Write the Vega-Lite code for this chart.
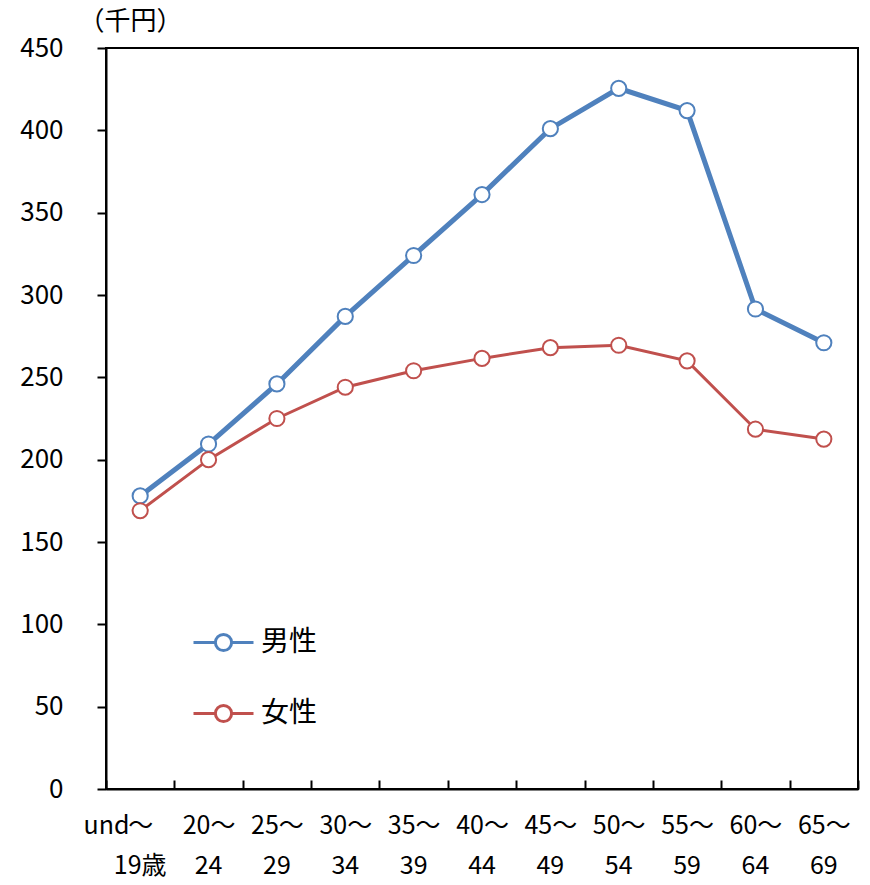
{
  "$schema": "https://vega.github.io/schema/vega-lite/v6.json",
  "width": 752,
  "height": 741,
  "autosize": {"type": "none"},
  "padding": {"left": 106, "top": 48, "right": 12, "bottom": 96},
  "background": "white",
  "config": {
    "view": {"stroke": "black", "strokeWidth": 2},
    "axis": {"grid": false, "domainColor": "black", "domainWidth": 2, "tickColor": "black", "tickWidth": 2, "labelColor": "black", "labelFont": "Noto Sans CJK JP", "labelFontSize": 25}
  },
  "data": {
    "values": [
      {"age": "～19歳", "sex": "男性", "wage": 178},
      {"age": "20～24", "sex": "男性", "wage": 209.5},
      {"age": "25～29", "sex": "男性", "wage": 246},
      {"age": "30～34", "sex": "男性", "wage": 287},
      {"age": "35～39", "sex": "男性", "wage": 324},
      {"age": "40～44", "sex": "男性", "wage": 361},
      {"age": "45～49", "sex": "男性", "wage": 401},
      {"age": "50～54", "sex": "男性", "wage": 425.5},
      {"age": "55～59", "sex": "男性", "wage": 412},
      {"age": "60～64", "sex": "男性", "wage": 291.5},
      {"age": "65～69", "sex": "男性", "wage": 271},
      {"age": "～19歳", "sex": "女性", "wage": 169},
      {"age": "20～24", "sex": "女性", "wage": 200},
      {"age": "25～29", "sex": "女性", "wage": 225},
      {"age": "30～34", "sex": "女性", "wage": 244},
      {"age": "35～39", "sex": "女性", "wage": 254},
      {"age": "40～44", "sex": "女性", "wage": 261.5},
      {"age": "45～49", "sex": "女性", "wage": 268},
      {"age": "50～54", "sex": "女性", "wage": 269.5},
      {"age": "55～59", "sex": "女性", "wage": 260},
      {"age": "60～64", "sex": "女性", "wage": 218.5},
      {"age": "65～69", "sex": "女性", "wage": 212.5}
    ]
  },
  "resolve": {"axis": {"x": "independent"}},
  "encoding": {
    "y": {
      "field": "wage", "type": "quantitative",
      "scale": {"domain": [0, 450], "nice": false},
      "axis": {
        "values": [0, 50, 100, 150, 200, 250, 300, 350, 400, 450],
        "tickSize": 9, "labelPadding": 34, "labelFontSize": 26,
        "title": "（千円）", "titleAngle": 0, "titleAlign": "left", "titleBaseline": "middle",
        "titleX": -28, "titleY": -27, "titleFontSize": 26, "titleFontWeight": "normal",
        "titleFont": "Noto Sans CJK JP", "titleColor": "black"
      }
    },
    "color": {
      "field": "sex", "type": "nominal",
      "scale": {"domain": ["男性", "女性"], "range": ["#4F81BD", "#C0504D"]},
      "legend": {
        "title": null, "orient": "none", "legendX": 86, "legendY": 563,
        "symbolType": "M-1,0L-0.27,0M0.27,0L1,0M-0.27,0A0.27,0.27 0 1,1 0.27,0A0.27,0.27 0 1,1 -0.27,0Z",
        "symbolSize": 3600, "symbolFillColor": "white", "symbolStrokeWidth": 3,
        "labelFontSize": 28, "labelFont": "Noto Sans CJK JP", "labelColor": "black",
        "rowPadding": 25, "labelOffset": 6
      }
    }
  },
  "layer": [
    {
      "mark": {"type": "line"},
      "encoding": {
        "x": {
          "field": "age", "type": "ordinal", "sort": null,
          "scale": {"paddingInner": 0, "paddingOuter": 0},
          "axis": {
            "orient": "bottom",
            "title": null, "labelAngle": 0, "tickBand": "extent", "tickSize": -9,
            "labelPadding": 33,
            "labelExpr": "datum.value == '～19歳' ? substring(datum.value, 0, 1) : substring(datum.value, 0, 3)"
          }
        },
        "strokeWidth": {"condition": {"test": "datum.sex == '男性'", "value": 5}, "value": 3}
      }
    },
    {
      "mark": {"type": "point", "shape": "circle", "filled": false, "fill": "white", "opacity": 1, "size": 230, "strokeWidth": 2},
      "encoding": {
        "x": {
          "field": "age", "type": "ordinal", "sort": null,
          "axis": {
            "orient": "bottom",
            "title": null, "labelAngle": 0, "ticks": false, "tickSize": 0, "domain": false,
            "labelPadding": 64,
            "labelExpr": "datum.value == '～19歳' ? '19歳' : substring(datum.value, 3, 5)"
          }
        }
      }
    }
  ]
}
